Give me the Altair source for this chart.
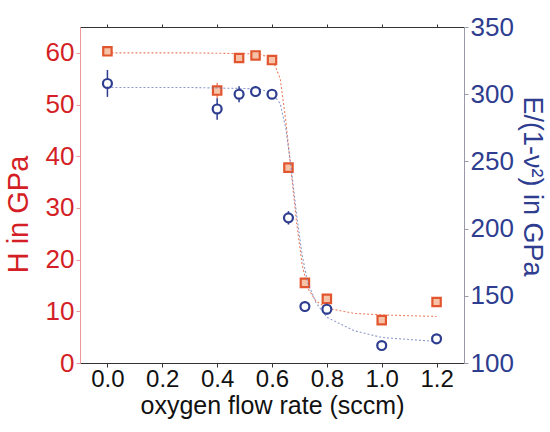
import altair as alt
import pandas as pd

# measured data
flow = [0.0, 0.4, 0.48, 0.54, 0.6, 0.66, 0.72, 0.8, 1.0, 1.2]
hardness = [60.3, 52.7, 59.0, 59.5, 58.6, 37.8, 15.5, 12.4, 8.3, 11.8]
hard_err = [0.8, 1.5, 0.8, 0.8, 0.8, 0.8, 0.8, 0.8, 0.6, 0.6]
modulus = [308, 289, 300, 302, 300, 208, 142, 140, 113, 118]
mod_err = [10, 8, 6, 4, 3, 5, 4, 4, 3, 3]

# hand-read fitted curves (dotted)
fit_x = [0.0, 0.3, 0.55, 0.6, 0.63, 0.65, 0.67, 0.69, 0.71, 0.73, 0.76, 0.8, 0.9, 1.0, 1.2]
fit_h = [60.0, 60.0, 59.8, 59.0, 55.0, 47.0, 37.0, 27.0, 19.0, 14.5, 12.0, 10.6, 9.6, 9.3, 9.0]
fit_e = [305, 305, 304, 301, 293, 275, 245, 210, 180, 160, 145, 134, 124, 119, 116]

RED = "#d41f26"
ORANGE = "#e2562f"
BLUE = "#2e3d8f"
FONT = "Liberation Sans, Arial, sans-serif"

pts = pd.DataFrame({"x": flow, "h": hardness, "he": hard_err, "e": modulus, "ee": mod_err})
pts["h_lo"] = pts["h"] - pts["he"]
pts["h_hi"] = pts["h"] + pts["he"]
pts["e_lo"] = pts["e"] - pts["ee"]
pts["e_hi"] = pts["e"] + pts["ee"]
fit = pd.DataFrame({"x": fit_x, "h": fit_h, "e": fit_e})

xscale = alt.Scale(domain=[-0.1, 1.3], nice=False)
xvals = [round(0.1 * i, 1) for i in range(0, 13)]
xaxis = alt.Axis(values=xvals, labelExpr="(round(datum.value*10)%2==0) ? format(datum.value,'.1f') : ''",
                 title="oxygen flow rate (sccm)", labelFontSize=24, titleFontSize=25,
                 labelFont=FONT, titleFont=FONT, labelColor="#111", titleColor="#111",
                 domainColor="#333", tickColor="#333", tickSize=4, labelPadding=0,
                 titlePadding=2, grid=False, labelFlush=False, titleFontWeight="normal")
xaxis_top = alt.Axis(values=xvals, labels=False, title=None, orient="top", domainColor="#333",
                     tickColor="#333", tickSize=3, grid=False)

hscale = alt.Scale(domain=[0, 65], nice=False)
hvals = list(range(0, 65, 5))
haxis = alt.Axis(values=hvals, labelExpr="datum.value % 10 == 0 ? datum.value : ''",
                 title="H in GPa", labelFontSize=26, titleFontSize=29, labelFont=FONT,
                 titleFont=FONT, labelColor=RED, titleColor=RED, domainColor="#e99",
                 tickColor="#e99", tickSize=4, labelPadding=2, grid=False,
                 titleX=-62, titleY=187, titleAngle=-90, titleAlign="center",
                 titleBaseline="middle", titleFontWeight="normal")

escale = alt.Scale(domain=[100, 350], nice=False)
evals = list(range(100, 351, 25))
eaxis = alt.Axis(values=evals, labelExpr="datum.value % 50 == 0 ? datum.value : ''",
                 orient="right", title="E/(1-ν²) in GPa", labelFontSize=26, titleFontSize=27,
                 labelFont=FONT, titleFont=FONT, labelColor=BLUE, titleColor=BLUE,
                 domainColor="#99a", tickColor="#99a", tickSize=4, labelPadding=2,
                 grid=False, titleX=67, titleY=159, titleAngle=90, titleAlign="center",
                 titleBaseline="middle", titleFontWeight="normal")

h_line = alt.Chart(fit).mark_line(color=ORANGE, strokeDash=[2, 2], strokeWidth=1.1, opacity=0.75).encode(
    x=alt.X("x:Q", scale=xscale, axis=xaxis),
    y=alt.Y("h:Q", scale=hscale, axis=haxis))
h_err = alt.Chart(pts).mark_rule(color=ORANGE, strokeWidth=1).encode(
    x="x:Q", y="h_lo:Q", y2="h_hi:Q")
h_pts = alt.Chart(pts).mark_point(shape="square", size=70, color=ORANGE, fill="#f6c3a8",
                                  filled=False, strokeWidth=2.2, opacity=1).encode(
    x="x:Q", y="h:Q")
red_layer = alt.layer(h_line, h_err, h_pts)

e_line = alt.Chart(fit).mark_line(color="#6a78b8", strokeDash=[2, 2], strokeWidth=1.1, opacity=0.75).encode(
    x=alt.X("x:Q", scale=xscale, axis=xaxis_top),
    y=alt.Y("e:Q", scale=escale, axis=eaxis))
e_err = alt.Chart(pts).mark_rule(color=BLUE, strokeWidth=1.5).encode(
    x="x:Q", y="e_lo:Q", y2="e_hi:Q")
e_pts = alt.Chart(pts).mark_point(shape="circle", size=80, color=BLUE, filled=False,
                                  strokeWidth=2.2, fill="white", opacity=1).encode(
    x="x:Q", y="e:Q")
blue_layer = alt.layer(e_line, e_err, e_pts)

chart = alt.layer(red_layer, blue_layer).resolve_scale(y="independent").resolve_axis(
    x="independent").properties(
    width=384, height=336,
    autosize=alt.AutoSizeParams(type="none"),
    padding={"left": 80, "top": 27, "right": 86, "bottom": 69},
    background="white"
).configure_view(stroke=None)

chart.save("out.html", embed_options={"renderer": "svg", "actions": False})
